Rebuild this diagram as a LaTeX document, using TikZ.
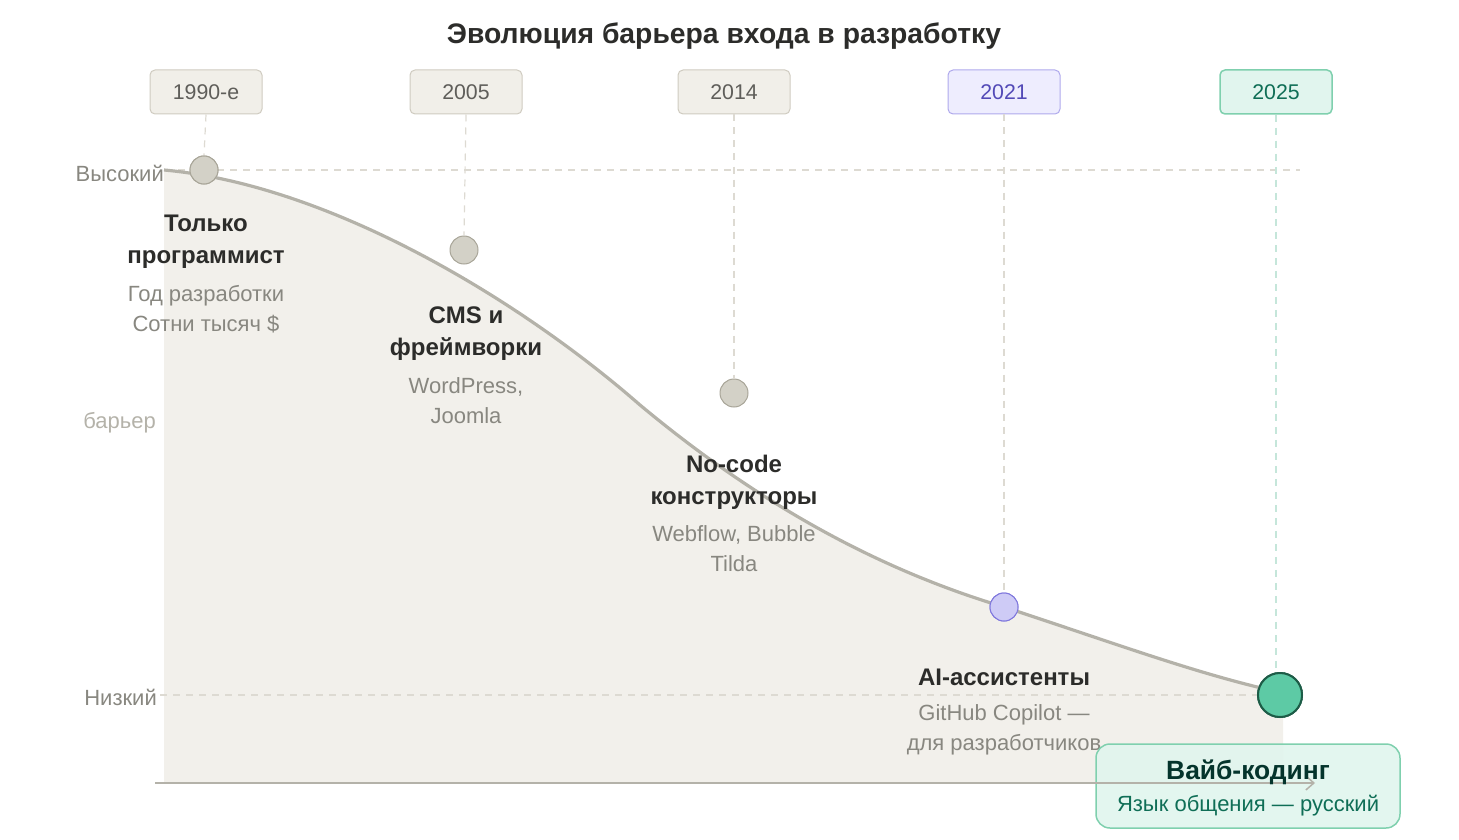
\documentclass[tikz,border=0pt]{standalone}
\usepackage{fontspec}
\setmainfont{Liberation Sans}
\usetikzlibrary{arrows.meta}
\definecolor{boxfill}{HTML}{F1EFE9}
\definecolor{boxline}{HTML}{CFCBC0}
\definecolor{yeartxt}{HTML}{5F5E5A}
\definecolor{grid}{HTML}{DDDAD2}
\definecolor{area}{HTML}{F2F0EB}
\definecolor{curve}{HTML}{B4B2A9}
\definecolor{dotfill}{HTML}{D3D1C7}
\definecolor{dotline}{HTML}{A8A598}
\definecolor{purfill}{HTML}{EEEDFE}
\definecolor{purline}{HTML}{AFA9EC}
\definecolor{purtxt}{HTML}{534AB7}
\definecolor{purdot}{HTML}{CECBF6}
\definecolor{purdotline}{HTML}{7F77DD}
\definecolor{grfill}{HTML}{E1F5EE}
\definecolor{grline}{HTML}{7FD0AE}
\definecolor{grtxt}{HTML}{0F6E56}
\definecolor{grdark}{HTML}{04342C}
\definecolor{grdot}{HTML}{5DCAA5}
\definecolor{grdotline}{HTML}{1D5C47}
\definecolor{grdash}{HTML}{C5E6DA}
\definecolor{darktxt}{HTML}{2C2C2A}
\definecolor{graytxt}{HTML}{888780}
\definecolor{lighttxt}{HTML}{B4B2A9}
\definecolor{axis}{HTML}{B4B2A9}
\tikzset{
  yearbox/.style={draw=boxline, fill=boxfill, rounded corners=5pt, minimum width=112pt, minimum height=44pt, text=yeartxt, font=\fontsize{21.3}{24}\selectfont, line width=1pt, inner sep=0pt},
  griddash/.style={draw=grid, dash pattern=on 7pt off 6pt, line width=1.2pt},
  dot/.style={circle, draw=dotline, fill=dotfill, minimum size=28pt, inner sep=0pt, line width=1pt},
  titletxt/.style={font=\fontsize{24}{32}\selectfont\bfseries, text=darktxt, align=center},
  subtxt/.style={font=\fontsize{22}{30}\selectfont, text=graytxt, align=center},
  axislbl/.style={font=\fontsize{22}{24}\selectfont, text=graytxt},
}
\begin{document}
\begin{tikzpicture}[x=1pt,y=-1pt]
\useasboundingbox (0,0) rectangle (1459,840);
% area under curve
\fill[area] (164,170) .. controls (330,185) and (520,300) .. (640,405)
  .. controls (760,505) and (880,570) .. (1004,607)
  .. controls (1120,645) and (1200,675) .. (1283,693) -- (1283,783) -- (164,783) -- cycle;
% gridlines
\draw[griddash] (165,170) -- (1300,170);
\draw[griddash] (160,695) -- (1280,695);
% title
\node[font=\fontsize{28.3}{32}\selectfont\bfseries, text=darktxt] (title) at (724,36) {Эволюция барьера входа в разработку};
% year boxes
\node[yearbox] (y1) at (206,92) {\raisebox{-1pt}{1990-е}};
\node[yearbox] (y2) at (466,92) {\raisebox{-1pt}{2005}};
\node[yearbox] (y3) at (734,92) {\raisebox{-1pt}{2014}};
\node[yearbox, draw=purline, fill=purfill, text=purtxt] (y4) at (1004,92) {\raisebox{-1pt}{2021}};
\node[yearbox, draw=grline, fill=grfill, text=grtxt, line width=1.5pt] (y5) at (1276,92) {\raisebox{-1pt}{2025}};
% dots
\node[dot] (d1) at (204,170) {};
\node[dot] (d2) at (464,250) {};
\node[dot] (d3) at (734,393) {};
\node[dot, draw=purdotline, fill=purdot] (d4) at (1004,607) {};
\node[dot, draw=grdotline, fill=grdot, minimum size=44pt, line width=2pt] (d5) at (1280,695) {};
% vertical dashed
\draw[griddash] (y1.south) -- (d1.north);
\draw[griddash] (y2.south) -- (d2.north);
\draw[griddash] (y3.south) -- (d3.north);
\draw[griddash] (y4.south) -- (d4.north);
\draw[griddash, draw=grdash] (y5.south) -- (y5.south |- d5.north);
% curve
\draw[curve, line width=3.2pt] (164,170) .. controls (330,185) and (520,300) .. (640,405)
  .. controls (760,505) and (880,570) .. (1004,607)
  .. controls (1120,645) and (1200,675) .. (1283,693);
\begin{scope}
\node[dot] at (204,170) {};
\node[dot, draw=purdotline, fill=purdot] at (1004,607) {};
\node[dot, draw=grdotline, fill=grdot, minimum size=44pt, line width=2pt] at (1280,695) {};
\end{scope}
% axis labels
\node[axislbl, anchor=east, inner sep=0pt] (hi) at (164,173) {Высокий};
\node[axislbl, text=lighttxt, anchor=east, inner sep=0pt] (bar) at (156,423) {барьер};
\node[axislbl, anchor=east, inner sep=0pt] (lo) at (157,697) {Низкий};
% stage labels
\node[titletxt] (t1) at (206,242) {Только\\программист};
\node[subtxt] (s1) at (206,309) {Год разработки\\Сотни тысяч \$};
\node[titletxt] (t2) at (466,334) {CMS и\\фреймворки};
\node[subtxt] (s2) at (466,401) {WordPress,\\Joomla};
\node[titletxt] (t3) at (734,482) {No-code\\конструкторы};
\node[subtxt] (s3) at (734,549) {Webflow, Bubble\\Tilda};
\node[titletxt] (t4) at (1004,677) {AI-ассистенты};
\node[subtxt] (s4) at (1004,730) {GitHub Copilot —\\для разработчиков};
% final box
\node[draw=grline, fill=grfill, fill opacity=0.92, text opacity=1, rounded corners=14pt, line width=1.5pt, minimum width=304pt, minimum height=84pt] (fin) at (1248,786) {};
% axis
\draw[axis, line width=1.5pt, -{Straight Barb[length=8pt,width=14pt]}] (155,783) coordinate (ax0) -- (1315,783) coordinate (ax1);
\node[font=\fontsize{26.4}{30}\selectfont\bfseries, text=grdark] (fin1) at (1248,772) {Вайб-кодинг};
\node[font=\fontsize{22}{24}\selectfont, text=grtxt] (fin2) at (1248,806) {Язык общения — русский};
\end{tikzpicture}
\end{document}
